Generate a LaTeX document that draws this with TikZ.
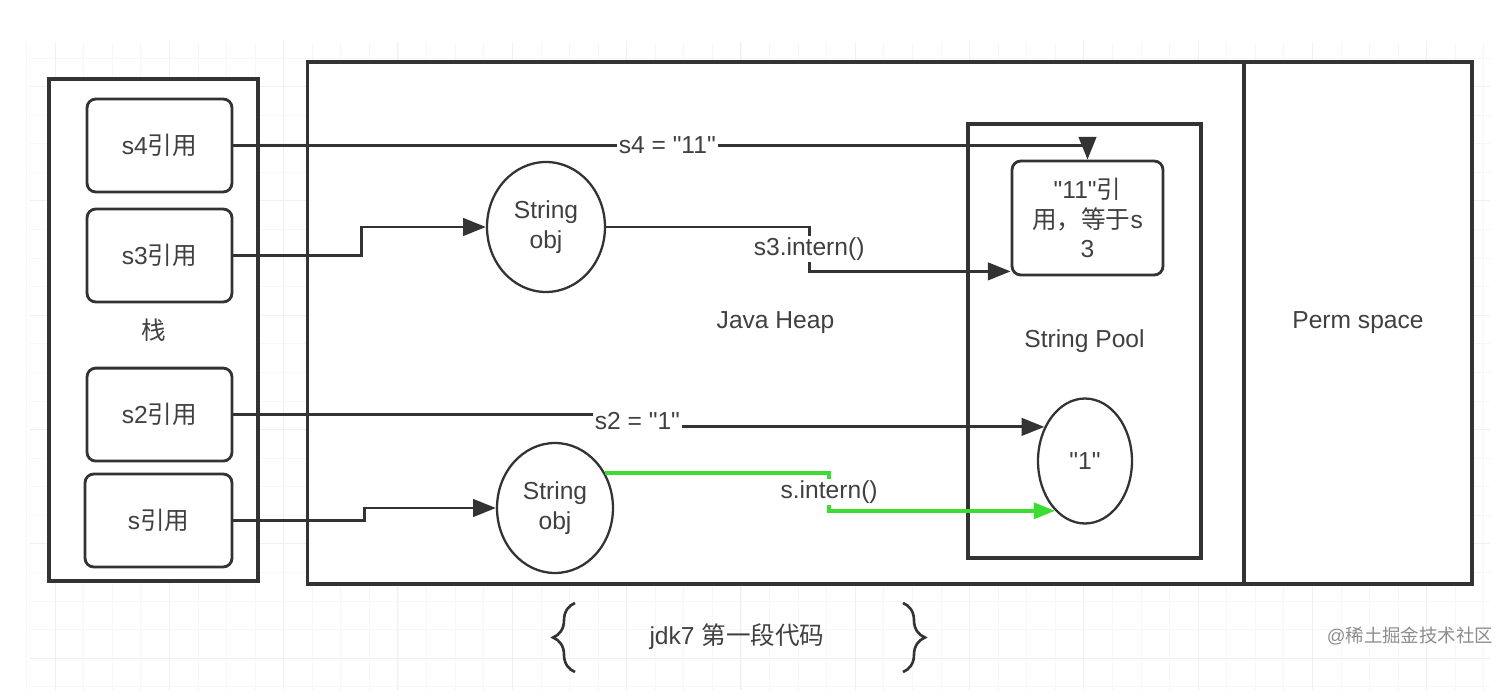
\documentclass[tikz,border=0pt]{standalone}
\usepackage{fontspec}
\newfontfamily\latin{Liberation Sans}
\newfontfamily\cjk{Noto Sans CJK SC}
\usetikzlibrary{positioning,shapes.geometric,arrows.meta,decorations.pathreplacing}

\definecolor{interngreen}{RGB}{60,220,50}
\newcommand{\zh}[1]{{\cjk #1}}

\tikzset{
  txt/.style={font=\latin\fontsize{14}{17}\selectfont, text=black!75},
  region/.style={draw=black!80, line width=1.8pt, fill=white, txt},
  refbox/.style={draw=black!80, line width=1.6pt, rounded corners=5pt, fill=white,
    minimum width=2.9cm, minimum height=1.86cm, txt, align=center},
  obj/.style={draw=black!80, line width=1.3pt, ellipse, fill=white, txt, align=center, inner sep=0pt},
  link/.style={draw=black!80, line width=1.6pt, -{Triangle[length=13pt,width=10pt]}},
  tag/.style={txt, fill=white, inner sep=1pt},
  brace/.style={draw=black!80, line width=1.5pt, decorate, decoration={brace, amplitude=0.44cm}},
  minorline/.style={black!3, line width=0.4pt},
  majorline/.style={black!6, line width=0.5pt},
}

\begin{document}
\begin{tikzpicture}[x=0.02cm, y=-0.02cm]
  \useasboundingbox (0,0) rectangle (1512,696);

  % background grid
  \foreach \k in {0,...,51}
    \draw[minorline] ({26.5+28.575*\k},42) -- ++(0,648);
  \foreach \k in {0,...,22}
    \draw[minorline] (30,{686.6-28.575*\k}) -- ++(1460,0);
  \foreach \k in {0,...,12}
    \draw[majorline] ({55+114.3*\k},42) -- ++(0,648);
  \foreach \k in {0,...,5}
    \draw[majorline] (30,{658-114.3*\k}) -- ++(1460,0);

  % regions
  \node[region, minimum width=4.18cm, minimum height=10.04cm] (stack) at (153.5,330) {\zh{栈}};
  \node[region, minimum width=18.74cm, minimum height=10.44cm] (heap) at (775.5,323) {Java Heap};
  \node[region, minimum width=4.56cm, minimum height=10.44cm] (perm) at (1358,323) {Perm space};
  \node[region, minimum width=4.66cm, minimum height=8.68cm] (pool) at (1084.5,341) {String Pool};

  % references on the stack
  \node[refbox] (s4) at (159.5,145.5) {s4\zh{引用}};
  \node[refbox] (s3) at (159.5,255.5) {s3\zh{引用}};
  \node[refbox] (s2) at (159.5,414.6) {s2\zh{引用}};
  \node[refbox, minimum width=2.94cm] (s) at (158.5,520.5) {s\zh{引用}};

  % objects
  \node[obj, minimum width=2.36cm, minimum height=2.6cm] (obja) at (546,227) {String\\obj};
  \node[obj, minimum width=2.32cm, minimum height=2.6cm] (objb) at (555,508) {String\\obj};
  \node[refbox, minimum width=3.02cm, minimum height=2.28cm] (pref) at (1087.5,218)
    {"11"\zh{引}\\\zh{用，等于}s\\3};
  \node[obj, minimum width=1.88cm, minimum height=2.5cm] (one) at (1085,461) {"1"};

  % links
  \draw[link] (s4.east) -| node[tag, pos=0.254] {s4 = "11"} (pref.north);
  \draw[link] (s3.east) -- ++(128,0) |- (obja.west);
  \draw[link] (obja.east) -- ++(203,0) |- node[tag, pos=0.25] {s3.intern()} ([yshift=0.1cm]pref.south west);
  \draw[link] (s2.east) -- ++(404,0) |- node[tag, pos=0.25] {s2 = "1"} (one.140);
  \draw[link] (s.east) -- ++(131,0) |- (objb.west);
  \draw[link, line width=2pt, draw=interngreen, -{Triangle[length=12pt,width=9pt,fill=interngreen]}]
    (objb.35) -- ++(224,0) |- node[tag, pos=0.25] {s.intern()} (one.239);

  % caption
  \draw[brace] (575,672) -- (575,603);
  \draw[brace] (903,603) -- (903,672);
  \node[txt] (caption) at (737,637) {jdk7 \zh{第一段代码}};
  \node[font=\latin\fontsize{10.5}{12}\selectfont, text=black!45] (mark) at (1410,636) {@\zh{稀土掘金技术社区}};
\end{tikzpicture}
\end{document}
